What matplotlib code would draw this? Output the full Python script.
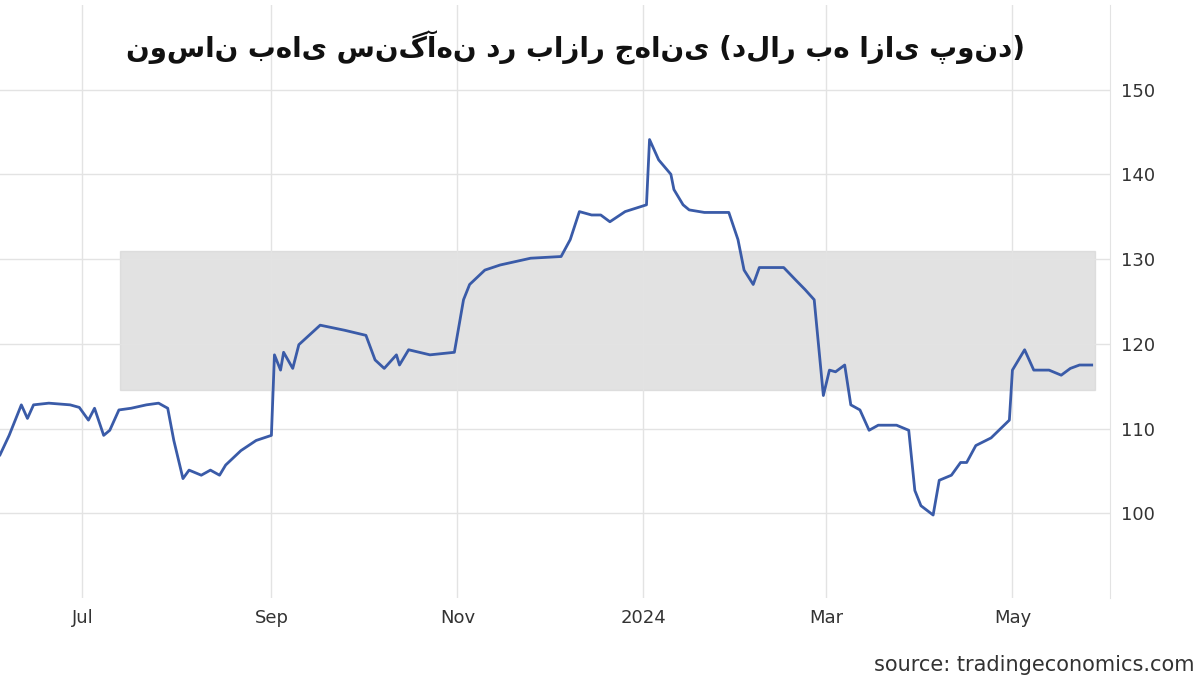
import matplotlib
matplotlib.use("Agg")
import matplotlib.pyplot as plt
import numpy as np
import datetime as dt

base = dt.date(2023, 6, 4)
day_offsets = [0,3,7,9,11,16,23,26,29,31,34,36,39,43,48,52,55,57,60,62,66,69,72,74,79,84,89,90,92,93,96,98,105,113,120,123,126,130,131,134,141,149,152,154,159,164,169,174,184,187,190,194,197,200,205,212,213,216,220,221,224,226,231,239,242,244,247,249,253,257,261,264,267,270,272,274,277,279,282,285,288,294,298,300,302,306,308,312,315,317,320,325,331,332,336,339,344,348,351,354,358]
prices = [106.9,109.2,112.8,111.2,112.8,113,112.8,112.5,111,112.4,109.2,109.8,112.2,112.4,112.8,113,112.4,108.6,104.1,105.1,104.5,105.1,104.5,105.7,107.4,108.6,109.2,118.7,116.9,119,117.1,119.9,122.2,121.6,121,118.1,117.1,118.7,117.5,119.3,118.7,119,125.2,127,128.7,129.3,129.7,130.1,130.3,132.3,135.6,135.2,135.2,134.4,135.6,136.4,144.1,141.7,140,138.2,136.4,135.8,135.5,135.5,132.3,128.7,127,129,129,129,127.5,126.4,125.2,113.9,116.9,116.7,117.5,112.8,112.2,109.8,110.4,110.4,109.8,102.7,100.9,99.8,103.9,104.5,106,106,108,108.9,111,116.9,119.3,116.9,116.9,116.3,117.1,117.5,117.5]
tick_dates = [dt.date(2023,7,1), dt.date(2023,9,1), dt.date(2023,11,1), dt.date(2024,1,1), dt.date(2024,3,1), dt.date(2024,5,1)]
tick_labels = ["Jul", "Sep", "Nov", "2024", "Mar", "May"]
yticks = [100, 110, 120, 130, 140, 150]
title = "نوسان بهای سنگ‌آهن در بازار جهانی (دلار به ازای پوند)"

dates = [base + dt.timedelta(days=d) for d in day_offsets]

fig = plt.figure(figsize=(12, 6.82), dpi=100)
ax = fig.add_axes([0.0, 0.123, 0.925, 0.87])
ax.plot(dates, prices, color="#3a5ba8", lw=2, zorder=3)
ax.set_xlim(base, base + dt.timedelta(days=364))
ax.set_ylim(90, 160)
ax.set_xticks(tick_dates)
ax.set_xticklabels(tick_labels, fontsize=13, color="#333333")
ax.yaxis.tick_right()
ax.set_yticks(yticks)
ax.set_yticklabels([str(v) for v in yticks], fontsize=13, color="#333333")
ax.tick_params(length=0, pad=8)
ax.grid(True, color="#e3e3e3", lw=1)
for s in ["top", "left", "bottom"]:
    ax.spines[s].set_visible(False)
ax.spines["right"].set_color("#e3e3e3")
# watermark band
ax.axhspan(114.5, 131, xmin=120/1110, xmax=1095/1110, color="#d6d6d6", alpha=0.7, zorder=1)
fig.text(0.48, 0.93, title, fontsize=20, fontweight="bold", ha="center", va="center",
         family=["DejaVu Sans"], color="#111111")
fig.text(0.995, 0.025, "source: tradingeconomics.com", fontsize=15, ha="right", va="center", color="#333333")
fig.savefig("out.png", dpi=100, facecolor="white")
